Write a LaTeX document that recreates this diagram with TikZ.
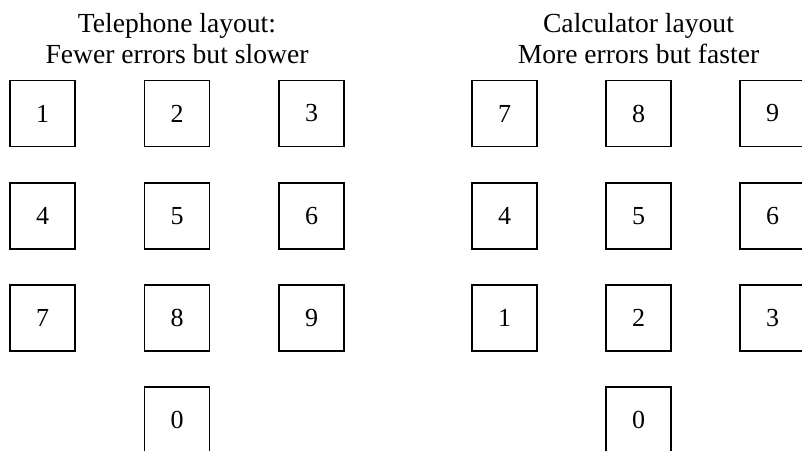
\documentclass[tikz,border=0pt]{standalone}
\usepackage{fontspec}
\setmainfont{Liberation Serif}
\tikzset{
  keybox/.style={draw, line width=1.6pt, minimum width=65pt, minimum height=66pt, inner sep=0pt,
    font=\fontsize{26}{30}\selectfont},
  titletext/.style={anchor=north, align=center, inner sep=0pt,
    font=\fontsize{27.6}{31}\selectfont}
}
\begin{document}
\begin{tikzpicture}[x=1pt,y=-1pt]
\clip (0,0) rectangle (802,450);
\fill[white] (0,0) rectangle (802,450);
% titles
\node[titletext] (tt) at (177,13) {Telephone layout:\\Fewer errors but slower};
\node[titletext] (ct) at (638.5,13) {Calculator layout\\More errors but faster};
% telephone keypad
\node[keybox] (t1) at (42.5,113.5) {1};
\node[keybox] (t2) at (177,113.5) {2};
\node[keybox] (t3) at (311.5,113.5) {3};
\node[keybox] (t4) at (42.5,216) {4};
\node[keybox] (t5) at (177,216) {5};
\node[keybox] (t6) at (311.5,216) {6};
\node[keybox] (t7) at (42.5,318) {7};
\node[keybox] (t8) at (177,318) {8};
\node[keybox] (t9) at (311.5,318) {9};
\node[keybox] (t0) at (177,420) {0};
% calculator keypad
\node[keybox] (c7) at (504.5,113.5) {7};
\node[keybox] (c8) at (638.5,113.5) {8};
\node[keybox] (c9) at (772.5,113.5) {9};
\node[keybox] (c4) at (504.5,216) {4};
\node[keybox] (c5) at (638.5,216) {5};
\node[keybox] (c6) at (772.5,216) {6};
\node[keybox] (c1) at (504.5,318) {1};
\node[keybox] (c2) at (638.5,318) {2};
\node[keybox] (c3) at (772.5,318) {3};
\node[keybox] (c0) at (638.5,420) {0};
\end{tikzpicture}
\end{document}
